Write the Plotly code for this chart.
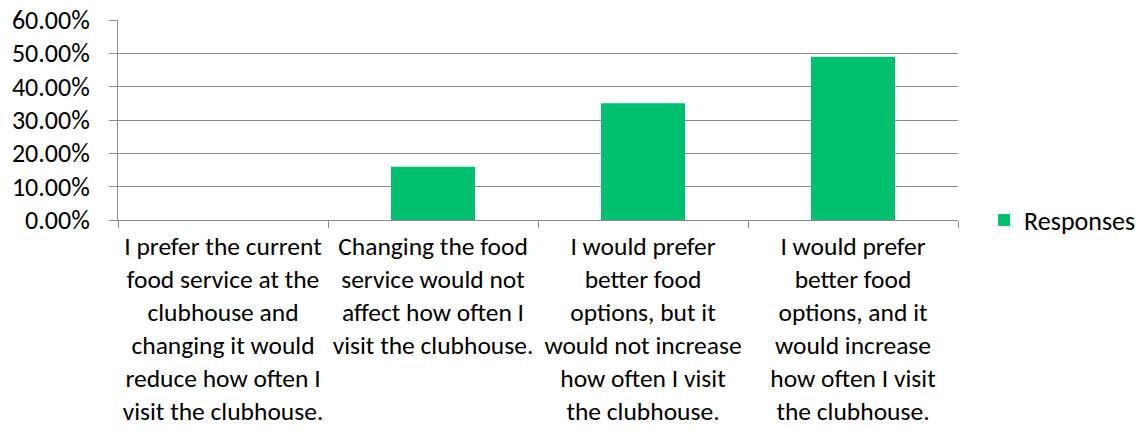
import plotly.graph_objects as go

# Survey answers (category axis labels, wrapped as displayed)
categories = [
    "I prefer the current<br>food service at the<br>clubhouse and<br>changing it would<br>reduce how often I<br>visit the clubhouse.",
    "Changing the food<br>service would not<br>affect how often I<br>visit the clubhouse.",
    "I would prefer<br>better food<br>options, but it<br>would not increase<br>how often I visit<br>the clubhouse.",
    "I would prefer<br>better food<br>options, and it<br>would increase<br>how often I visit<br>the clubhouse.",
]
responses = [0.0, 0.16, 0.35, 0.49]
series_name = "Responses"

y_ticks = [0.0, 0.1, 0.2, 0.3, 0.4, 0.5, 0.6]

FONT = "Calibri, Carlito, Lato, sans-serif"
GRID = "#8c8c8c"

fig = go.Figure(
    go.Bar(
        x=categories,
        y=responses,
        name=series_name,
        marker=dict(color="#00bf6f", line=dict(width=0)),
        showlegend=True,
    )
)

fig.update_layout(
    width=1141,
    height=429,
    margin=dict(l=118, r=183, t=20, b=209, autoexpand=False),
    paper_bgcolor="white",
    plot_bgcolor="white",
    font=dict(family=FONT, size=26, color="#000000"),
    bargap=0.6,
    legend=dict(
        xref="container",
        yref="container",
        x=0.8625,
        xanchor="left",
        y=0.487,
        yanchor="middle",
        font=dict(family=FONT, size=26, color="#000000"),
        bgcolor="rgba(0,0,0,0)",
    ),
)

fig.update_xaxes(
    type="category",
    automargin=False,
    showline=True,
    linecolor=GRID,
    linewidth=1,
    ticks="outside",
    tickson="boundaries",
    ticklen=7,
    tickcolor=GRID,
    tickangle=0,
    tickfont=dict(family=FONT, size=25.5, color="#000000"),
    ticklabelstandoff=3,
    showgrid=False,
)

fig.update_yaxes(
    automargin=False,
    range=[0, 0.6],
    tickvals=y_ticks,
    tickformat=".2%",
    showline=True,
    linecolor=GRID,
    linewidth=1,
    ticks="outside",
    ticklen=8,
    tickcolor=GRID,
    ticklabelstandoff=14,
    showgrid=True,
    gridcolor=GRID,
    gridwidth=1,
    zeroline=False,
)

fig.write_html("out.html")
